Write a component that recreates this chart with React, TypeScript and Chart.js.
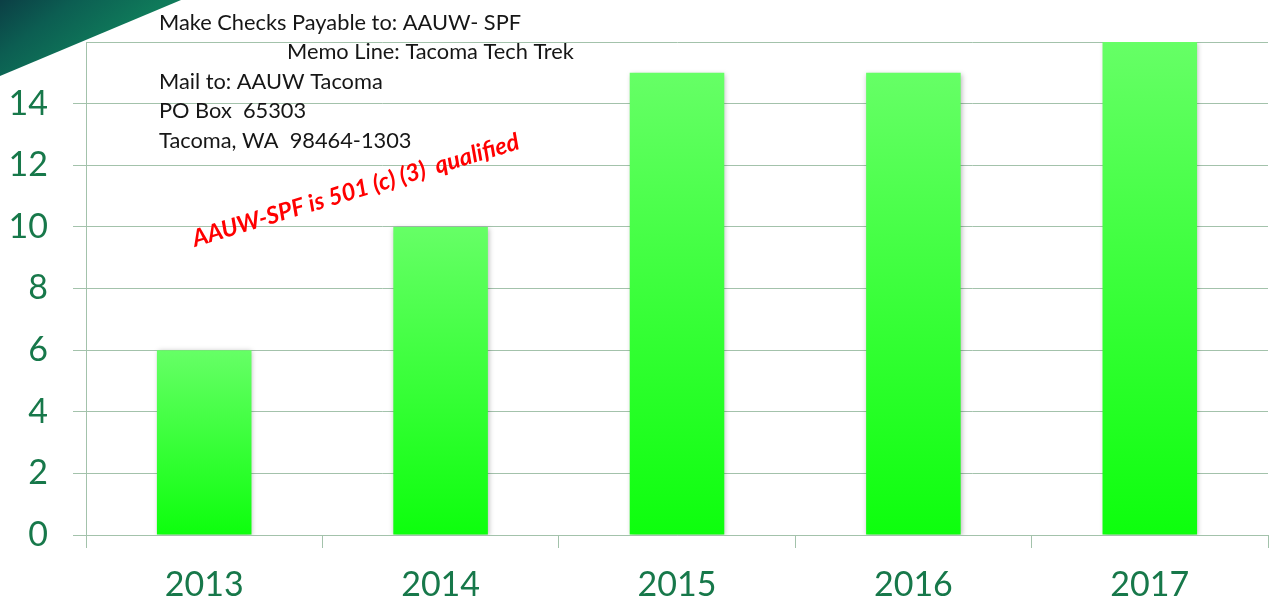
import React, { useEffect, useRef } from "react";
import { Chart, registerables } from "chart.js";

Chart.register(...registerables);

const categories = ["2013", "2014", "2015", "2016", "2017"];
const participants = [6, 10, 15, 15, 16];
const yMin = 0;
const yMax = 16;
const yStep = 2;

const noteLines = [
  { text: "Make Checks Payable to: AAUW- SPF", x: 159, y: 29.5 },
  { text: "Memo Line: Tacoma Tech Trek", x: 287, y: 59 },
  { text: "Mail to: AAUW Tacoma", x: 159, y: 88.5 },
  { text: "PO Box  65303", x: 159, y: 118 },
  { text: "Tacoma, WA  98464-1303", x: 159, y: 148 },
];
const taxNote = "AAUW-SPF is 501 (c) (3)  qualified";

const GREEN_TEXT = "#17784a";
const GRID = "#a3c2ab";

const decorPlugin = {
  id: "decor",
  beforeDraw(chart: any) {
    const ctx = chart.ctx;
    ctx.save();
    const g = ctx.createLinearGradient(0, 0, 60, 80);
    g.addColorStop(0, "#0b3f45");
    g.addColorStop(0.45, "#0c5e52");
    g.addColorStop(1, "#0f7a5a");
    ctx.fillStyle = g;
    ctx.beginPath();
    ctx.moveTo(0, 0);
    ctx.lineTo(181, 0);
    ctx.lineTo(0, 76);
    ctx.closePath();
    ctx.fill();
    ctx.restore();
  },
  beforeDatasetsDraw(chart: any) {
    const ctx = chart.ctx;
    ctx.save();
    ctx.shadowColor = "rgba(0,0,0,0.28)";
    ctx.shadowBlur = 5;
    ctx.shadowOffsetX = 1;
    ctx.shadowOffsetY = 1;
  },
  afterDatasetsDraw(chart: any) {
    chart.ctx.restore();
  },
  afterDraw(chart: any) {
    const ctx = chart.ctx;
    ctx.save();
    ctx.fillStyle = "#161616";
    ctx.font = "21.8px Lato";
    ctx.textAlign = "left";
    ctx.textBaseline = "alphabetic";
    for (const l of noteLines) ctx.fillText(l.text, l.x, l.y);
    ctx.translate(195, 247);
    ctx.rotate((-16.8 * Math.PI) / 180);
    ctx.fillStyle = "#ff0000";
    ctx.font = "italic bold 23.8px Lato";
    ctx.fillText(taxNote, 0, 0);
    ctx.restore();
  },
};

export default function App() {
  const ref = useRef<HTMLCanvasElement | null>(null);
  useEffect(() => {
    if (!ref.current) return;
    const chart = new Chart(ref.current, {
      type: "bar",
      data: {
        labels: categories,
        datasets: [
          {
            data: participants,
            backgroundColor: (c: any) => {
              const ch = c.chart;
              if (!ch.chartArea || c.raw === undefined) return "#33ff33";
              const y = ch.scales.y;
              const top = y.getPixelForValue(c.raw);
              const bottom = y.getPixelForValue(0);
              const g = ch.ctx.createLinearGradient(0, top, 0, bottom);
              g.addColorStop(0, "#66ff66");
              g.addColorStop(1, "#0dff0d");
              return g;
            },
            borderWidth: 0,
            barPercentage: 0.4,
            categoryPercentage: 1,
          },
        ],
      },
      options: {
        responsive: false,
        animation: false,
        layout: { padding: { top: 42, right: 6, left: 0, bottom: 0 } },
        plugins: { legend: { display: false }, tooltip: { enabled: false } },
        scales: {
          x: {
            afterFit: (s: any) => {
              s.height = 69;
              s.paddingLeft = 0;
              s.paddingRight = 0;
            },
            grid: {
              offset: true,
              drawOnChartArea: false,
              tickLength: 13,
              tickColor: GRID,
              color: GRID,
            },
            border: { color: GRID, width: 1 },
            ticks: {
              color: GREEN_TEXT,
              font: { family: "Lato", size: 34 },
              padding: 17,
            },
          },
          y: {
            min: yMin,
            max: yMax,
            afterFit: (s: any) => {
              s.width = 86;
              s.paddingTop = 0;
              s.paddingBottom = 0;
            },
            grid: {
              color: GRID,
              tickLength: 13,
              tickColor: (c: any) => (c.tick && c.tick.value === yMax ? "rgba(0,0,0,0)" : GRID),
            },
            border: { color: GRID, width: 1 },
            ticks: {
              stepSize: yStep,
              color: GREEN_TEXT,
              font: { family: "Lato", size: 34 },
              padding: 25,
              callback: (v: any) => (v === yMax ? "" : String(v)),
            },
          },
        },
      },
      plugins: [decorPlugin],
    });
    return () => chart.destroy();
  }, []);
  return (
    <div style={{ position: "fixed", left: 0, top: 0, width: 1274, height: 604, background: "#fff" }}>
      <canvas ref={ref} width={1274} height={604} style={{ width: 1274, height: 604, display: "block" }} />
    </div>
  );
}
